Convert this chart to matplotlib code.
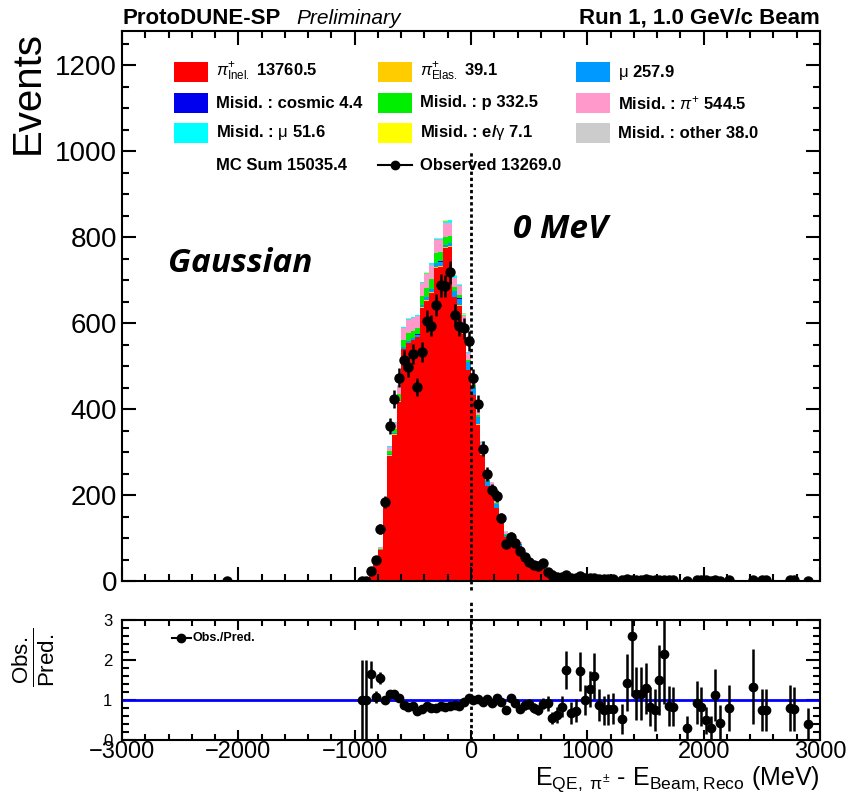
import numpy as np
import matplotlib
matplotlib.use("Agg")
import matplotlib.pyplot as plt
from matplotlib.patches import Rectangle
from matplotlib.lines import Line2D
from matplotlib.ticker import MultipleLocator

plt.rcParams['font.family'] = ['Liberation Sans', 'DejaVu Sans']
plt.rcParams['mathtext.fontset'] = 'custom'
plt.rcParams['mathtext.rm'] = 'Liberation Sans'
plt.rcParams['mathtext.it'] = 'Liberation Sans:italic'
plt.rcParams['mathtext.bf'] = 'Liberation Sans:bold'

# binning: 40 MeV bins starting at -960 MeV
BIN_LO = -960
BIN_W = 40

# observed events per bin
obs = [1, 1, 23, 49, 121, 184, 360, 423, 473, 515, 498, 529, 452, 533, 605, 594,
       643, 688, 686, 719, 619, 594, 588, 558, 472, 413, 308, 249, 212, 198, 147,
       86, 103, 89, 70, 55, 45, 37, 35, 41, 22, 14, 10, 10, 14,
       6, 7, 12, 7, 8, 8, 5, 4, 4, 4, 0, 2, 4, 3, 3, 3, 4, 3, 2, 3, 3, 3, 3, 0,
       0, 1, 0, 3, 3, 2, 1, 3, 1, 0, 2, 0, 0, 0, 0, 2, 0, 2, 2, 0, 0, 0, 0, 2,
       2, 0, 0, 1, 0, 0]
# lone observed event far from the peak
obs_far_x = -2100
obs_far_n = 1

# MC components (stack order, bottom to top)
pi_inel = [1, 1, 13, 42, 71, 175, 292, 340, 417, 539, 554, 560, 567, 636, 651,
           670, 729, 731, 775, 777, 660, 641, 576, 490, 432, 364, 294, 221, 208,
           170, 136, 103, 88, 87, 82, 56, 44, 41, 42, 40, 22, 23, 14, 10, 7,
           9, 9.5, 7, 7, 6.3, 5, 5.7, 5.4, 5.2, 5.1, 4.5, 3.8, 2.8, 1.15, 2.6,
           2.6, 3.1, 3.6, 2.7, 2.0, 1.4, 3.5, 3.6, 3.4, 3.2, 3.3, 3.0, 3.2, 3.6,
           4.1, 3.4, 2.65, 2.3, 2.4, 2.5, 2.2, 2.0, 2.1, 1.9, 1.5, 2.0, 2.7, 2.7,
           2.2, 2.0, 1.9, 2.1, 2.5, 2.6, 2.2, 2.0, 2.5, 1.8, 1.6]
pi_elas = [0, 0, 0, 0, 0, 1, 1, 1, 1, 1, 1, 1, 1, 1, 2, 2, 2, 2, 2, 2, 2, 2, 1,
           1, 1, 1, 1, 1, 1, 1]
mu = [0, 0, 0, 0, 1, 1, 2, 3, 3, 4, 4, 5, 5, 6, 7, 8, 10, 10, 6, 8, 12, 14, 16,
      18, 18, 16, 14, 10, 9, 8, 7, 5, 4, 4, 3, 3, 2, 2, 2, 2, 1, 1, 1, 1, 1]
cosmic = [0, 0, 0, 0, 0, 0, 0, 0, 0, 0, 0, 0, 1, 0, 0, 0, 0, 1, 0, 0, 0, 1, 0,
          0, 0, 1]
proton = [0, 0, 1, 2, 3, 4, 8, 10, 14, 18, 18, 16, 14, 20, 22, 22, 23, 22, 18,
          17, 10, 8, 6, 5, 4, 4, 3, 3, 2, 2, 2, 2, 1, 1, 1, 1, 1, 1, 1, 1]
misid_pi = [0, 0, 0, 2, 3, 5, 10, 14, 18, 26, 30, 30, 28, 30, 32, 34, 30, 28, 32,
            30, 22, 20, 18, 16, 14, 12, 10, 8, 8, 8, 6, 5, 5, 4, 4, 3, 3, 2, 2,
            2, 1, 1, 1, 1]
misid_mu = [0, 0, 0, 0, 0, 0, 1, 1, 1, 2, 2, 2, 2, 2, 3, 3, 3, 3, 5, 5, 4, 4, 3,
            2, 2, 1, 1, 1, 1]
e_gamma = [0, 0, 0, 0, 0, 0, 0, 0, 0, 0, 1, 0, 0, 0, 1, 0, 0, 0, 1, 0, 0, 0, 1,
           0, 0, 0, 1, 0, 0, 0, 1]
other = [0, 0, 0, 0, 0, 0, 1, 1, 1, 1, 1, 1, 1, 1, 1, 2, 2, 2, 2, 2, 2, 2, 2, 1,
         1, 1, 1, 1, 1, 1, 1, 1]

labels = [r"$\pi^{+}_{\mathrm{Inel.}}$ 13760.5", r"$\pi^{+}_{\mathrm{Elas.}}$ 39.1",
          r"$\mathrm{\mu}$ 257.9", "Misid. : cosmic 4.4", "Misid. : p 332.5",
          r"Misid. : $\pi^{+}$ 544.5", r"Misid. : $\mathrm{\mu}$ 51.6",
          r"Misid. : e/$\mathrm{\gamma}$ 7.1", "Misid. : other 38.0"]
colors = ['#ff0000', '#ffcc00', '#0099ff', '#0000ee', '#00ee00', '#ff99cc',
          '#00ffff', '#ffff00', '#cccccc']
mc_sum_label = "MC Sum 15035.4"
obs_label = "Observed 13269.0"

n_bins = len(obs)
edges = BIN_LO + BIN_W * np.arange(n_bins + 1)
centers = edges[:-1] + BIN_W / 2
obs = np.asarray(obs, float)


def full(a):
    a = np.asarray(a, float)
    return np.concatenate([a, np.zeros(n_bins - len(a))])


components = [pi_inel, pi_elas, mu, cosmic, proton, misid_pi, misid_mu, e_gamma, other]

W, H = 846, 797
fig = plt.figure(figsize=(W / 100, H / 100), dpi=100)


def fx(x):
    return x / W


def fy(y):
    return 1 - y / H


ax = fig.add_axes([fx(122), fy(581), (820 - 122) / W, (581 - 31) / H])
axr = fig.add_axes([fx(122), fy(740), (820 - 122) / W, (740 - 620) / H])

# stacked MC
bottom = np.zeros(n_bins)
for vals, col in zip(components, colors):
    top = bottom + full(vals)
    ax.stairs(top, edges, baseline=bottom, fill=True, color=col, lw=0)
    bottom = top
mc = bottom

# observed
m = obs > 0
ax.errorbar(centers[m], obs[m], yerr=np.sqrt(obs[m]), xerr=BIN_W / 2, fmt='o',
            color='k', ms=6.5, elinewidth=1.8, capsize=0)
ax.errorbar([obs_far_x], [obs_far_n], yerr=[1], xerr=BIN_W / 2, fmt='o',
            color='k', ms=6.5, elinewidth=1.8, capsize=0)

ax.plot([0, 0], [-22, 1000], color='k', lw=2, ls=(0, (1.2, 1.0)), clip_on=False)

ax.set_xlim(-3000, 3000)
ax.set_ylim(0, 1280)
ax.xaxis.set_major_locator(MultipleLocator(1000))
ax.xaxis.set_minor_locator(MultipleLocator(200))
ax.yaxis.set_major_locator(MultipleLocator(200))
ax.yaxis.set_minor_locator(MultipleLocator(50))
ax.tick_params(which='both', direction='in', top=True, right=True, width=1.5,
               labelbottom=False, labelsize=20)
ax.tick_params(which='major', length=10)
ax.tick_params(which='minor', length=5)
for s in ax.spines.values():
    s.set_linewidth(1.5)
ax.set_ylabel('Events', fontsize=29, loc='top', labelpad=6)

fig.text(fx(240), fy(263), 'Gaussian', fontsize=24, fontweight='bold',
         style='italic', family=['Open Sans', 'DejaVu Sans'], ha='center', va='center')
fig.text(fx(560), fy(229), '0 MeV', fontsize=24, fontweight='bold',
         style='italic', family=['Open Sans', 'DejaVu Sans'], ha='center', va='center')

# header
fig.text(fx(122), fy(18), 'ProtoDUNE-SP', fontsize=16, fontweight='bold', va='center')
fig.text(fx(296), fy(19), 'Preliminary', fontsize=15, style='italic', va='center')
fig.text(fx(820), fy(18), 'Run 1, 1.0 GeV/c Beam', fontsize=16, fontweight='bold',
         va='center', ha='right')

# legend drawn by hand (3 columns)
col_x = [174, 378, 576]
row_y = [72, 103, 133, 165]
for i, (lab, col) in enumerate(zip(labels, colors)):
    r, c = divmod(i, 3)
    fig.patches.append(Rectangle((fx(col_x[c]), fy(row_y[r] + 10)), 34 / W, 20 / H,
                                 transform=fig.transFigure, color=col, lw=0))
    fig.text(fx(col_x[c] + 42), fy(row_y[r]), lab, fontsize=12, fontweight='bold',
             va='center')
fig.text(fx(col_x[0] + 42), fy(row_y[3]), mc_sum_label, fontsize=12,
         fontweight='bold', va='center')
fig.lines.append(Line2D([fx(col_x[1]), fx(col_x[1] + 34)], [fy(row_y[3])] * 2,
                        transform=fig.transFigure, color='k', lw=1.5))
fig.lines.append(Line2D([fx(col_x[1] + 17)], [fy(row_y[3])], transform=fig.transFigure,
                        color='k', marker='o', ms=6))
fig.text(fx(col_x[1] + 42), fy(row_y[3]), obs_label, fontsize=12, fontweight='bold',
         va='center')

# ratio panel
mr = (obs > 0) & (mc > 0)
ratio = obs[mr] / mc[mr]
rerr = np.sqrt(obs[mr]) / mc[mr]
axr.axhline(1, color='#0000ff', lw=2)
axr.errorbar(centers[mr], ratio, yerr=rerr, xerr=BIN_W / 2, fmt='o', color='k',
             ms=6, elinewidth=1.8, capsize=0)
axr.plot([0, 0], [0, 3.5], color='k', lw=2, ls=(0, (1.2, 1.0)), clip_on=False)
axr.set_xlim(-3000, 3000)
axr.set_ylim(0, 3)
axr.xaxis.set_major_locator(MultipleLocator(1000))
axr.xaxis.set_minor_locator(MultipleLocator(200))
axr.yaxis.set_major_locator(MultipleLocator(1))
axr.yaxis.set_minor_locator(MultipleLocator(0.2))
axr.tick_params(which='both', direction='in', top=True, right=True, width=1.5)
axr.tick_params(axis='x', which='major', length=7, labelsize=17, pad=1)
axr.tick_params(axis='x', which='minor', length=4)
axr.tick_params(axis='y', which='major', length=10, labelsize=12, pad=7)
axr.tick_params(axis='y', which='minor', length=5)
for s in axr.spines.values():
    s.set_linewidth(1.5)
fig.text(fx(820), fy(785), r'E$_{\mathrm{QE,\ \pi^{\pm}}}$ - E$_{\mathrm{Beam,Reco}}$ (MeV)',
         fontsize=18, ha='right', va='baseline')
fig.text(fx(34), fy(657), r'$\frac{\mathrm{Obs.}}{\mathrm{Pred.}}$', fontsize=23,
         rotation=90, ha='center', va='center')

axr.plot([-2570, -2410], [2.55, 2.55], color='k', lw=1.5)
axr.plot([-2490], [2.55], 'o', color='k', ms=6)
axr.text(-2390, 2.55, 'Obs./Pred.', fontsize=9, fontweight='bold', va='center')

fig.savefig('out.png', dpi=100)
